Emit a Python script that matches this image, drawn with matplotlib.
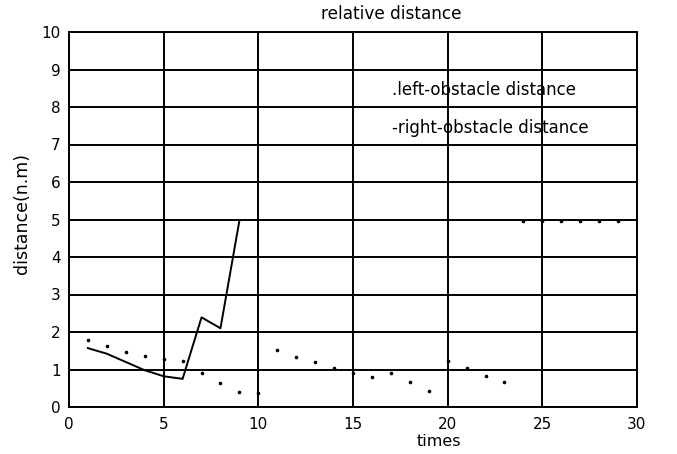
import matplotlib
matplotlib.use("Agg")
import matplotlib.pyplot as plt

plt.rcParams['font.family'] = ['DejaVu Sans']

left_x = [1, 2, 3, 4, 5, 6, 7, 8, 9, 10, 11, 12, 13, 14, 15, 16, 17, 18, 19, 20, 21, 22, 23, 24, 25, 26, 27, 28, 29]
left_y = [1.8, 1.63, 1.46, 1.36, 1.28, 1.22, 0.92, 0.64, 0.4, 0.38, 1.51, 1.34, 1.21, 1.05, 0.9, 0.79, 0.92, 0.66, 0.43,
          1.24, 1.04, 0.82, 0.66, 4.95, 4.95, 4.95, 4.95, 4.95, 4.95]
right_x = [1, 2, 3, 4, 5, 6, 7, 8, 9]
right_y = [1.57, 1.42, 1.2, 0.98, 0.82, 0.75, 2.39, 2.1, 4.97]

x_ticks = [0, 5, 10, 15, 20, 25, 30]
y_ticks = list(range(0, 11))

W, H = 677, 454
fig = plt.figure(figsize=(W / 100, H / 100), dpi=100)
ax = fig.add_axes([69 / W, 47 / H, 568 / W, 375 / H])

ax.plot(left_x, left_y, linestyle='none', marker='o', markersize=1.6, color='black')
ax.plot(right_x, right_y, color='black', linewidth=1.4)

ax.set_xlim(0, 30)
ax.set_ylim(0, 10)
ax.set_xticks(x_ticks)
ax.set_yticks(y_ticks)
ax.grid(True, color='black', linewidth=1.4)
for s in ax.spines.values():
    s.set_linewidth(1.4)
ax.tick_params(axis='both', length=0, labelsize=11)
ax.tick_params(axis='x', pad=7)
ax.tick_params(axis='y', pad=6)

fig.text(391 / W, 1 - 14 / H, 'relative distance', fontsize=12.2, ha='center', va='center')
fig.text(439 / W, 1 - 441 / H, 'times', fontsize=11.5, ha='center', va='center')
fig.text(22 / W, 1 - 213 / H, 'distance(n.m)', fontsize=12.5, ha='center', va='center', rotation=90)

ax.text(392 / W, 1 - 90 / H, '.left-obstacle distance', fontsize=12, va='center', ha='left',
        transform=fig.transFigure)
ax.text(392 / W, 1 - 128 / H, '-right-obstacle distance', fontsize=12, va='center', ha='left',
        transform=fig.transFigure)

fig.savefig('out.png', dpi=100)
